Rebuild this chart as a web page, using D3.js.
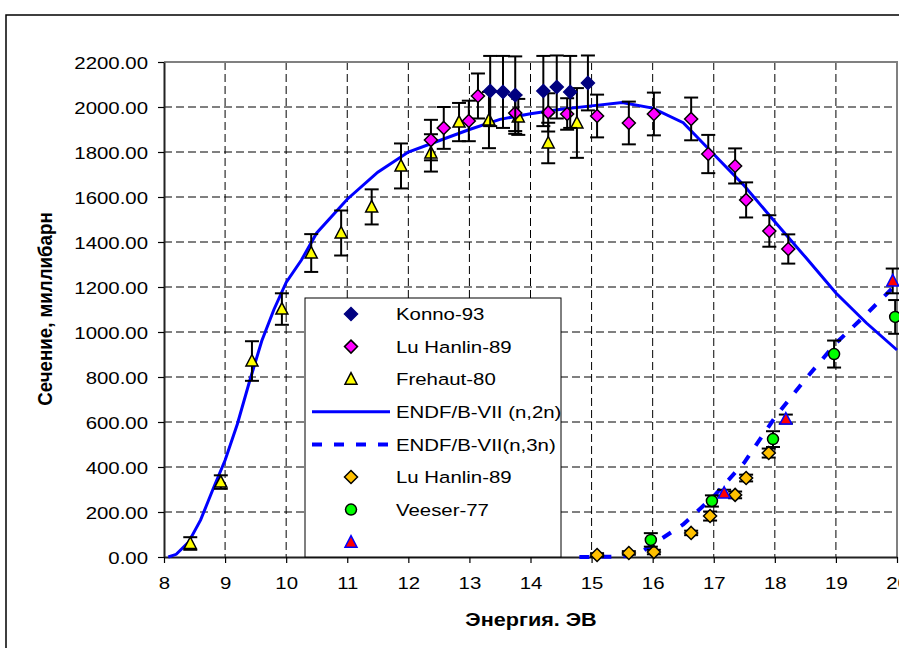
<!DOCTYPE html>
<html>
<head>
<meta charset="utf-8">
<script src="https://cdn.jsdelivr.net/npm/d3@7"></script>
<style>
  body { margin: 0; background: #fff; }
  svg { display: block; font-family: Arial, "Liberation Sans", sans-serif; }
</style>
</head>
<body>
<svg id="chart" width="899" height="648"></svg>
<script>
// axis ticks
var xTicks = [8, 9, 10, 11, 12, 13, 14, 15, 16, 17, 18, 19, 20];
var yTicks = [0, 200, 400, 600, 800, 1000, 1200, 1400, 1600, 1800, 2000, 2200];

// Konno-93
var konnoE   = [13.34, 13.55, 13.75, 14.21, 14.43, 14.65, 14.94];
var konnoV   = [2071, 2067, 2053, 2071, 2089, 2067, 2107];
var konnoErr = [156, 160, 172, 156, 140, 160, 122];

// Lu Hanlin-89 (n,2n)
var luE   = [12.37, 12.58, 12.99, 13.14, 13.75, 14.29, 14.60, 15.09, 15.61, 16.02, 16.63, 16.91, 17.35, 17.53, 17.91, 18.22];
var luV   = [1853, 1907, 1938, 2049, 1973, 1976, 1969, 1960, 1929, 1969, 1947, 1791, 1738, 1587, 1449, 1369];
var luErr = [90, 93, 90, 100, 80, 85, 70, 95, 95, 95, 95, 85, 78, 78, 70, 65];

// Frehaut-80
var frehautE   = [8.43, 8.93, 9.44, 9.93, 10.41, 10.90, 11.40, 11.88, 12.37, 12.83, 13.32, 13.80, 14.29, 14.76];
var frehautV   = [60, 333, 871, 1102, 1351, 1440, 1556, 1738, 1796, 1933, 1942, 1956, 1840, 1929];
var frehautErr = [28, 30, 88, 70, 84, 100, 78, 100, 83, 85, 125, 80, 90, 155];

// ENDF/B-VII (n,2n)
var endf2nE = [8.07, 8.2, 8.4, 8.6, 8.8, 9.0, 9.2, 9.4, 9.6, 9.8, 10.0, 10.25, 10.5, 11.0, 11.5, 12.0, 12.5, 13.0, 13.5, 14.0, 14.5, 15.0, 15.5, 16.0, 16.5, 17.0, 17.5, 18.0, 18.5, 19.0, 19.5, 20.0];
var endf2nV = [0, 12, 65, 165, 300, 430, 590, 780, 960, 1100, 1220, 1320, 1440, 1590, 1710, 1800, 1850, 1900, 1945, 1970, 1990, 2005, 2020, 1995, 1930, 1790, 1650, 1490, 1333, 1173, 1040, 920];

// ENDF/B-VII (n,3n)
var endf3nE = [14.8, 15.5, 15.8, 16.0, 16.5, 17.0, 17.5, 18.0, 18.5, 19.0, 19.5, 20.0];
var endf3nV = [0, 2, 20, 55, 145, 270, 420, 620, 790, 950, 1080, 1215];

// Lu Hanlin-89 (n,3n)
var lu3E   = [15.09, 15.61, 16.02, 16.63, 16.94, 17.35, 17.53, 17.90];
var lu3V   = [9, 18, 22, 107, 182, 276, 351, 462];
var lu3Err = [8, 8, 10, 10, 20, 15, 15, 20];

// Veeser-77
var veeserE   = [15.97, 16.97, 17.97, 18.97, 19.97];
var veeserV   = [76, 249, 524, 902, 1067];
var veeserErr = [30, 25, 35, 60, 75];

// unnamed series (red triangles)
var redE   = [17.17, 18.18, 19.93];
var redV   = [284, 613, 1227];
var redErr = [15, 20, 55];

var legendNames = ['Konno-93', 'Lu Hanlin-89', 'Frehaut-80', 'ENDF/B-VII (n,2n)', 'ENDF/B-VII(n,3n)', 'Lu Hanlin-89', 'Veeser-77', ''];

var svg = d3.select('#chart');

var plotL = 164, plotR = 897, plotT = 62, plotB = 557;

var x = d3.scaleLinear().domain([8, 20]).range([plotL, plotR]);
var y = d3.scaleLinear().domain([0, 2200]).range([plotB, plotT]);

var SX = 1.2; // text in the picture is a bit wider than Arial

// outer chart frame
svg.append('rect')
    .attr('x', 6).attr('y', 15)
    .attr('width', 1000).attr('height', 1000)
    .attr('fill', 'none').attr('stroke', '#000').attr('stroke-width', 1.5);

// grid
svg.append('g').selectAll('line')
    .data(yTicks.filter(function(d) { return d > 0 && d < 2200; }))
    .enter().append('line')
    .attr('x1', plotL).attr('x2', plotR)
    .attr('y1', function(d) { return y(d); })
    .attr('y2', function(d) { return y(d); })
    .attr('stroke', '#000').attr('stroke-width', 1)
    .attr('stroke-dasharray', '8,4');

svg.append('g').selectAll('line')
    .data(xTicks.filter(function(d) { return d > 8 && d < 20; }))
    .enter().append('line')
    .attr('x1', function(d) { return x(d); })
    .attr('x2', function(d) { return x(d); })
    .attr('y1', plotT).attr('y2', plotB)
    .attr('stroke', '#000').attr('stroke-width', 1)
    .attr('stroke-dasharray', '8,4');

// top and right edge of plot area
svg.append('path')
    .attr('d', 'M' + plotL + ',' + plotT + 'H' + plotR + 'V' + plotB)
    .attr('fill', 'none').attr('stroke', '#808080').attr('stroke-width', 2);

// axes
var yAxis = svg.append('g')
    .attr('transform', 'translate(' + plotL + ',0)')
    .call(d3.axisLeft(y).tickValues(yTicks).tickFormat(d3.format('.2f')).tickSize(6).tickSizeOuter(0));

var xAxis = svg.append('g')
    .attr('transform', 'translate(0,' + plotB + ')')
    .call(d3.axisBottom(x).tickValues(xTicks).tickFormat(d3.format('d')).tickSize(6).tickSizeOuter(0));

[yAxis, xAxis].forEach(function(g) {
    g.select('.domain').attr('stroke', '#222').attr('stroke-width', 2);
    g.selectAll('.tick line').attr('stroke', '#000').attr('stroke-width', 1.2);
    g.selectAll('.tick text')
        .attr('fill', '#000')
        .style('font-size', '17px')
        .style('font-family', 'Arial, "Liberation Sans", sans-serif');
});

yAxis.selectAll('.tick text')
    .attr('x', 0).attr('dy', '0.36em')
    .attr('transform', 'translate(-16,0) scale(' + SX + ',1)');

xAxis.selectAll('.tick text')
    .attr('y', 0).attr('dy', '0.36em')
    .attr('transform', 'translate(0,26) scale(' + SX + ',1)');

// axis titles
svg.append('text')
    .attr('transform', 'translate(531,626) scale(' + SX + ',1)')
    .attr('text-anchor', 'middle')
    .style('font-size', '18px').style('font-weight', 'bold')
    .text('Энергия. ЭВ');

svg.append('text')
    .attr('transform', 'translate(52,309) rotate(-90) scale(1.1,' + SX + ')')
    .attr('text-anchor', 'middle')
    .style('font-size', '17px').style('font-weight', 'bold')
    .text('Сечение, миллибарн');

// curves
var line = d3.line()
    .x(function(d) { return x(d[0]); })
    .y(function(d) { return y(d[1]); });

svg.append('path')
    .datum(d3.zip(endf2nE, endf2nV))
    .attr('d', line)
    .attr('fill', 'none').attr('stroke', '#0000ff').attr('stroke-width', 3);

svg.append('path')
    .datum(d3.zip(endf3nE, endf3nV))
    .attr('d', line)
    .attr('fill', 'none').attr('stroke', '#0000ff').attr('stroke-width', 4)
    .attr('stroke-dasharray', '10,12');

// markers
var shapes = {
    diamond : 'M0,-6.5L6.5,0L0,6.5L-6.5,0Z',
    triangle: 'M0,-6.5L6,5L-6,5Z',
    circle  : d3.symbol().type(d3.symbolCircle).size(95)()
};

function series(E, V, Err, shape, fill, edge) {
    var pts = d3.zip(E, V, Err);
    var g = svg.append('g');

    var eb = g.selectAll('.eb').data(pts).enter().append('g')
        .attr('stroke', '#000').attr('stroke-width', 2);
    eb.append('line')
        .attr('x1', function(d) { return x(d[0]); })
        .attr('x2', function(d) { return x(d[0]); })
        .attr('y1', function(d) { return y(d[1] + d[2]); })
        .attr('y2', function(d) { return y(d[1] - d[2]); });
    [1, -1].forEach(function(s) {
        eb.append('line')
            .attr('x1', function(d) { return x(d[0]) - 7; })
            .attr('x2', function(d) { return x(d[0]) + 7; })
            .attr('y1', function(d) { return y(d[1] + s * d[2]); })
            .attr('y2', function(d) { return y(d[1] + s * d[2]); });
    });

    g.selectAll('.m').data(pts).enter().append('path')
        .attr('d', shapes[shape])
        .attr('transform', function(d) { return 'translate(' + x(d[0]) + ',' + y(d[1]) + ')'; })
        .attr('fill', fill).attr('stroke', edge || '#000').attr('stroke-width', 1.5);
}

series(frehautE, frehautV, frehautErr, 'triangle', '#ffff00');
series(luE, luV, luErr, 'diamond', '#ff00ff');
series(konnoE, konnoV, konnoErr, 'diamond', '#000080', '#000080');
series(lu3E, lu3V, lu3Err, 'diamond', '#ffc000');
series(veeserE, veeserV, veeserErr, 'circle', '#00ff00');
series(redE, redV, redErr, 'triangle', '#ff0000', '#0000ff');

// legend
var lg = svg.append('g');
lg.append('rect')
    .attr('x', 305).attr('y', 298)
    .attr('width', 256).attr('height', 259)
    .attr('fill', '#fff').attr('stroke', '#000').attr('stroke-width', 1);

var legendKeys = [
    {shape: 'diamond', fill: '#000080', edge: '#000080'},
    {shape: 'diamond', fill: '#ff00ff'},
    {shape: 'triangle', fill: '#ffff00'},
    {line: 'solid'},
    {line: 'dash'},
    {shape: 'diamond', fill: '#ffc000'},
    {shape: 'circle', fill: '#00ff00'},
    {shape: 'triangle', fill: '#ff0000', edge: '#0000ff'}
];

legendKeys.forEach(function(k, i) {
    var ly = 314 + i * 32.6;
    if (k.line) {
        lg.append('line')
            .attr('x1', 312).attr('x2', 390)
            .attr('y1', ly).attr('y2', ly)
            .attr('stroke', '#0000ff')
            .attr('stroke-width', k.line == 'solid' ? 3 : 4)
            .attr('stroke-dasharray', k.line == 'solid' ? null : '10,12');
    } else {
        lg.append('path')
            .attr('d', shapes[k.shape])
            .attr('transform', 'translate(351,' + ly + ')')
            .attr('fill', k.fill).attr('stroke', k.edge || '#000').attr('stroke-width', 1.5);
    }
    lg.append('text')
        .attr('transform', 'translate(396,' + ly + ') scale(' + SX + ',1)')
        .attr('dy', '0.36em')
        .style('font-size', '17px')
        .text(legendNames[i]);
});
</script>
</body>
</html>
